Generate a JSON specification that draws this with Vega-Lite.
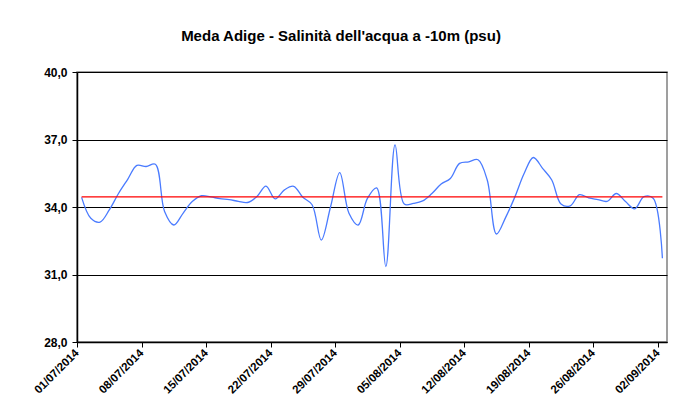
{
  "$schema": "https://vega.github.io/schema/vega-lite/v6.json",
  "autosize": "none",
  "width": 590,
  "height": 270,
  "padding": {"left": 77, "top": 72, "right": 8, "bottom": 72},
  "background": "white",
  "title": {
    "text": "Meda Adige - Salinità dell'acqua a -10m (psu)",
    "font": "Liberation Sans",
    "fontSize": 15,
    "fontWeight": "bold",
    "color": "black",
    "anchor": "middle",
    "dx": -31,
    "offset": 22
  },
  "config": {
    "font": "Liberation Sans",
    "view": {"stroke": "#808080", "strokeWidth": 1.5}
  },
  "data": {
    "values": [
      {"data": "2014-07-01", "salinita": 34.43, "media": 34.45},
      {"data": "2014-07-02", "salinita": 33.5, "media": 34.45},
      {"data": "2014-07-03", "salinita": 33.33, "media": 34.45},
      {"data": "2014-07-04", "salinita": 33.87, "media": 34.45},
      {"data": "2014-07-05", "salinita": 34.6, "media": 34.45},
      {"data": "2014-07-06", "salinita": 35.23, "media": 34.45},
      {"data": "2014-07-07", "salinita": 35.85, "media": 34.45},
      {"data": "2014-07-08", "salinita": 35.8, "media": 34.45},
      {"data": "2014-07-09", "salinita": 35.9, "media": 34.45},
      {"data": "2014-07-10", "salinita": 33.8, "media": 34.45},
      {"data": "2014-07-11", "salinita": 33.2, "media": 34.45},
      {"data": "2014-07-12", "salinita": 33.72, "media": 34.45},
      {"data": "2014-07-13", "salinita": 34.24, "media": 34.45},
      {"data": "2014-07-14", "salinita": 34.5, "media": 34.45},
      {"data": "2014-07-15", "salinita": 34.45, "media": 34.45},
      {"data": "2014-07-16", "salinita": 34.37, "media": 34.45},
      {"data": "2014-07-17", "salinita": 34.33, "media": 34.45},
      {"data": "2014-07-18", "salinita": 34.25, "media": 34.45},
      {"data": "2014-07-19", "salinita": 34.2, "media": 34.45},
      {"data": "2014-07-20", "salinita": 34.46, "media": 34.45},
      {"data": "2014-07-21", "salinita": 34.93, "media": 34.45},
      {"data": "2014-07-22", "salinita": 34.36, "media": 34.45},
      {"data": "2014-07-23", "salinita": 34.76, "media": 34.45},
      {"data": "2014-07-24", "salinita": 34.92, "media": 34.45},
      {"data": "2014-07-25", "salinita": 34.43, "media": 34.45},
      {"data": "2014-07-26", "salinita": 34.1, "media": 34.45},
      {"data": "2014-07-27", "salinita": 32.53, "media": 34.45},
      {"data": "2014-07-28", "salinita": 34.0, "media": 34.45},
      {"data": "2014-07-29", "salinita": 35.53, "media": 34.45},
      {"data": "2014-07-30", "salinita": 33.72, "media": 34.45},
      {"data": "2014-07-31", "salinita": 33.2, "media": 34.45},
      {"data": "2014-08-01", "salinita": 34.38, "media": 34.45},
      {"data": "2014-08-02", "salinita": 34.85, "media": 34.45},
      {"data": "2014-08-03", "salinita": 31.35, "media": 34.45},
      {"data": "2014-08-04", "salinita": 36.76, "media": 34.45},
      {"data": "2014-08-05", "salinita": 34.13, "media": 34.45},
      {"data": "2014-08-06", "salinita": 34.16, "media": 34.45},
      {"data": "2014-08-07", "salinita": 34.27, "media": 34.45},
      {"data": "2014-08-08", "salinita": 34.6, "media": 34.45},
      {"data": "2014-08-09", "salinita": 35.02, "media": 34.45},
      {"data": "2014-08-10", "salinita": 35.27, "media": 34.45},
      {"data": "2014-08-11", "salinita": 35.94, "media": 34.45},
      {"data": "2014-08-12", "salinita": 36.01, "media": 34.45},
      {"data": "2014-08-13", "salinita": 36.1, "media": 34.45},
      {"data": "2014-08-14", "salinita": 35.2, "media": 34.45},
      {"data": "2014-08-15", "salinita": 32.8, "media": 34.45},
      {"data": "2014-08-16", "salinita": 33.54, "media": 34.45},
      {"data": "2014-08-17", "salinita": 34.45, "media": 34.45},
      {"data": "2014-08-18", "salinita": 35.49, "media": 34.45},
      {"data": "2014-08-19", "salinita": 36.2, "media": 34.45},
      {"data": "2014-08-20", "salinita": 35.72, "media": 34.45},
      {"data": "2014-08-21", "salinita": 35.2, "media": 34.45},
      {"data": "2014-08-22", "salinita": 34.13, "media": 34.45},
      {"data": "2014-08-23", "salinita": 34.05, "media": 34.45},
      {"data": "2014-08-24", "salinita": 34.55, "media": 34.45},
      {"data": "2014-08-25", "salinita": 34.41, "media": 34.45},
      {"data": "2014-08-26", "salinita": 34.33, "media": 34.45},
      {"data": "2014-08-27", "salinita": 34.25, "media": 34.45},
      {"data": "2014-08-28", "salinita": 34.6, "media": 34.45},
      {"data": "2014-08-29", "salinita": 34.24, "media": 34.45},
      {"data": "2014-08-30", "salinita": 33.92, "media": 34.45},
      {"data": "2014-08-31", "salinita": 34.46, "media": 34.45},
      {"data": "2014-09-01", "salinita": 34.39, "media": 34.45},
      {"data": "2014-09-02", "salinita": 31.72, "media": 34.45}
    ]
  },
  "encoding": {
    "x": {
      "field": "data",
      "type": "temporal",
      "timeUnit": "utcyearmonthdate",
      "bandPosition": 0.5,
      "scale": {
        "domain": [
          {"year": 2014, "month": 7, "date": 1, "utc": true},
          {"year": 2014, "month": 9, "date": 3, "utc": true}
        ]
      },
      "axis": {
        "title": null,
        "grid": false,
        "values": [
          {"year": 2014, "month": 7, "date": 1, "utc": true},
          {"year": 2014, "month": 7, "date": 8, "utc": true},
          {"year": 2014, "month": 7, "date": 15, "utc": true},
          {"year": 2014, "month": 7, "date": 22, "utc": true},
          {"year": 2014, "month": 7, "date": 29, "utc": true},
          {"year": 2014, "month": 8, "date": 5, "utc": true},
          {"year": 2014, "month": 8, "date": 12, "utc": true},
          {"year": 2014, "month": 8, "date": 19, "utc": true},
          {"year": 2014, "month": 8, "date": 26, "utc": true},
          {"year": 2014, "month": 9, "date": 2, "utc": true}
        ],
        "labelExpr": "utcFormat(datum.value, '%d/%m/%Y')",
        "labelAngle": -45,
        "labelAlign": "right",
        "labelBaseline": "middle",
        "labelFont": "Liberation Sans",
        "labelFontSize": 11.5,
        "labelFontWeight": "bold",
        "labelColor": "black",
        "labelPadding": 4,
        "labelOverlap": false,
        "labelFlush": false,
        "domainColor": "black",
        "domainWidth": 1.5,
        "tickColor": "black",
        "tickSize": 5,
        "tickWidth": 1
      }
    }
  },
  "layer": [
    {
      "mark": {"type": "line", "color": "#4a7bff", "strokeWidth": 1.3, "interpolate": "catmull-rom"},
      "encoding": {
        "y": {
          "field": "salinita",
          "type": "quantitative",
          "scale": {"domain": [28, 40], "nice": false, "zero": false},
          "axis": {
            "title": null,
            "values": [28, 31, 34, 37, 40],
            "labelExpr": "replace(format(datum.value, '.1f'), '.', ',')",
            "labelFont": "Liberation Sans",
            "labelFontSize": 12,
            "labelFontWeight": "bold",
            "labelColor": "black",
            "labelPadding": 5,
            "grid": true,
            "gridColor": "black",
            "gridWidth": 1,
            "gridOpacity": 1,
            "domainColor": "black",
            "domainWidth": 1.5,
            "tickColor": "black",
            "tickSize": 5
          }
        }
      }
    },
    {
      "mark": {"type": "line", "color": "#ff0000", "strokeWidth": 1.3},
      "encoding": {
        "y": {"field": "media", "type": "quantitative"}
      }
    }
  ]
}
